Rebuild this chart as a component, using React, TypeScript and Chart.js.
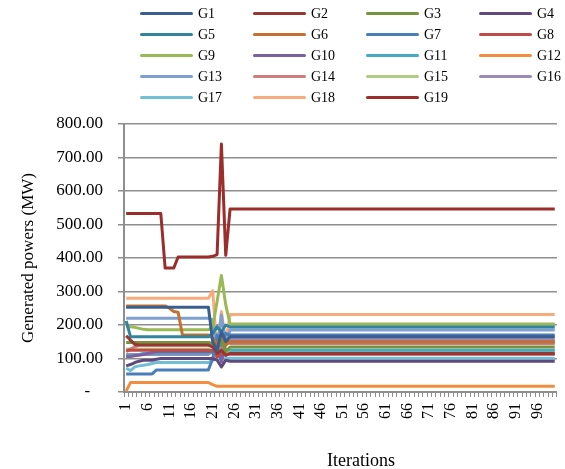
import React, { useEffect, useRef } from "react";
import { Chart, registerables } from "chart.js";

Chart.register(...registerables);

// Categories (iterations 1..100)
const iterations: string[] = Array.from({ length: 100 }, (_, i) => String(i + 1));

const seriesNames = [
  "G1", "G2", "G3", "G4", "G5", "G6", "G7", "G8", "G9", "G10",
  "G11", "G12", "G13", "G14", "G15", "G16", "G17", "G18", "G19",
];

const seriesColors = [
  "#3A5F8F", "#953735", "#77933C", "#5F4A7E", "#31849B", "#C4712F",
  "#4A7EBB", "#BE4B48", "#98B954", "#7D60A0", "#46AAC5", "#F38D40",
  "#7E9FD0", "#D07C7A", "#B0CB84", "#9C8AB8", "#72BED6", "#F8AB7C", "#9B2D2A",
];

const G1 = [253,253,253,253,253,253,253,253,253,253, 253,253,253,253,253,253,253,253,253,253, 150,125,180,150,165,165,165,165,165,165,
  165,165,165,165,165,165,165,165,165,165, 165,165,165,165,165,165,165,165,165,165, 165,165,165,165,165,165,165,165,165,165, 165,165,165,165,165,165,165,165,165,165,
  165,165,165,165,165,165,165,165,165,165, 165,165,165,165,165,165,165,165,165,165, 165,165,165,165,165,165,165,165,165,165];
const G2 = [168,155,142,140,140,140,140,140,140,140, 140,140,140,140,140,140,140,140,140,140, 135,115,125,110,115,115,115,115,115,115,
  115,115,115,115,115,115,115,115,115,115, 115,115,115,115,115,115,115,115,115,115, 115,115,115,115,115,115,115,115,115,115, 115,115,115,115,115,115,115,115,115,115,
  115,115,115,115,115,115,115,115,115,115, 115,115,115,115,115,115,115,115,115,115, 115,115,115,115,115,115,115,115,115,115];
const G3 = [148,148,148,148,148,148,148,148,148,148, 148,148,148,148,148,148,148,148,148,148, 145,125,155,120,134,134,134,134,134,134,
  134,134,134,134,134,134,134,134,134,134, 134,134,134,134,134,134,134,134,134,134, 134,134,134,134,134,134,134,134,134,134, 134,134,134,134,134,134,134,134,134,134,
  134,134,134,134,134,134,134,134,134,134, 134,134,134,134,134,134,134,134,134,134, 134,134,134,134,134,134,134,134,134,134];
const G4 = [78,82,88,92,95,95,95,98,100,100, 100,100,100,100,100,100,100,100,100,100, 100,95,75,95,92,92,92,92,92,92,
  92,92,92,92,92,92,92,92,92,92, 92,92,92,92,92,92,92,92,92,92, 92,92,92,92,92,92,92,92,92,92, 92,92,92,92,92,92,92,92,92,92,
  92,92,92,92,92,92,92,92,92,92, 92,92,92,92,92,92,92,92,92,92, 92,92,92,92,92,92,92,92,92,92];
const G5 = [212,165,165,165,165,165,165,165,165,165, 165,165,165,165,165,165,165,165,165,165, 175,195,180,200,194,194,194,194,194,194,
  194,194,194,194,194,194,194,194,194,194, 194,194,194,194,194,194,194,194,194,194, 194,194,194,194,194,194,194,194,194,194, 194,194,194,194,194,194,194,194,194,194,
  194,194,194,194,194,194,194,194,194,194, 194,194,194,194,194,194,194,194,194,194, 194,194,194,194,194,194,194,194,194,194];
const G6 = [257,257,257,257,257,257,257,257,257,257, 250,240,238,170,170,170,170,170,170,170, 160,140,170,140,150,150,150,150,150,150,
  150,150,150,150,150,150,150,150,150,150, 150,150,150,150,150,150,150,150,150,150, 150,150,150,150,150,150,150,150,150,150, 150,150,150,150,150,150,150,150,150,150,
  150,150,150,150,150,150,150,150,150,150, 150,150,150,150,150,150,150,150,150,150, 150,150,150,150,150,150,150,150,150,150];
const G7 = [54,54,54,54,54,54,54,66,66,66, 66,66,66,66,66,66,66,66,66,66, 100,170,140,175,170,170,170,170,170,170,
  170,170,170,170,170,170,170,170,170,170, 170,170,170,170,170,170,170,170,170,170, 170,170,170,170,170,170,170,170,170,170, 170,170,170,170,170,170,170,170,170,170,
  170,170,170,170,170,170,170,170,170,170, 170,170,170,170,170,170,170,170,170,170, 170,170,170,170,170,170,170,170,170,170];
const G8 = [125,125,125,125,125,125,125,125,125,125, 125,125,125,125,125,125,125,125,125,125, 120,105,118,110,113,113,113,113,113,113,
  113,113,113,113,113,113,113,113,113,113, 113,113,113,113,113,113,113,113,113,113, 113,113,113,113,113,113,113,113,113,113, 113,113,113,113,113,113,113,113,113,113,
  113,113,113,113,113,113,113,113,113,113, 113,113,113,113,113,113,113,113,113,113, 113,113,113,113,113,113,113,113,113,113];
const G9 = [195,195,193,190,187,186,186,186,186,186, 186,186,186,186,186,186,186,186,186,186, 195,270,348,260,203,203,203,203,203,203,
  203,203,203,203,203,203,203,203,203,203, 203,203,203,203,203,203,203,203,203,203, 203,203,203,203,203,203,203,203,203,203, 203,203,203,203,203,203,203,203,203,203,
  203,203,203,203,203,203,203,203,203,203, 203,203,203,203,203,203,203,203,203,203, 203,203,203,203,203,203,203,203,203,203];
const G10 = [105,106,108,110,112,115,118,120,120,120, 120,120,120,120,120,120,120,120,120,120, 125,140,90,145,150,150,150,150,150,150,
  150,150,150,150,150,150,150,150,150,150, 150,150,150,150,150,150,150,150,150,150, 150,150,150,150,150,150,150,150,150,150, 150,150,150,150,150,150,150,150,150,150,
  150,150,150,150,150,150,150,150,150,150, 150,150,150,150,150,150,150,150,150,150, 150,150,150,150,150,150,150,150,150,150];
const G11 = [108,108,110,112,115,116,116,116,116,116, 116,116,116,116,116,116,116,116,116,116, 118,130,110,128,125,125,125,125,125,125,
  125,125,125,125,125,125,125,125,125,125, 125,125,125,125,125,125,125,125,125,125, 125,125,125,125,125,125,125,125,125,125, 125,125,125,125,125,125,125,125,125,125,
  125,125,125,125,125,125,125,125,125,125, 125,125,125,125,125,125,125,125,125,125, 125,125,125,125,125,125,125,125,125,125];
const G12 = [3,28,28,28,28,28,28,28,28,28, 28,28,28,28,28,28,28,28,28,28, 22,17,17,17,17,17,17,17,17,17,
  17,17,17,17,17,17,17,17,17,17, 17,17,17,17,17,17,17,17,17,17, 17,17,17,17,17,17,17,17,17,17, 17,17,17,17,17,17,17,17,17,17,
  17,17,17,17,17,17,17,17,17,17, 17,17,17,17,17,17,17,17,17,17, 17,17,17,17,17,17,17,17,17,17];
const G13 = [220,220,220,220,220,220,220,220,220,220, 220,220,220,220,220,220,220,220,220,220, 215,130,230,140,185,185,185,185,185,185,
  185,185,185,185,185,185,185,185,185,185, 185,185,185,185,185,185,185,185,185,185, 185,185,185,185,185,185,185,185,185,185, 185,185,185,185,185,185,185,185,185,185,
  185,185,185,185,185,185,185,185,185,185, 185,185,185,185,185,185,185,185,185,185, 185,185,185,185,185,185,185,185,185,185];
const G14 = [120,128,135,140,140,140,140,140,140,140, 140,140,140,140,140,140,140,140,140,140, 140,150,130,150,145,145,145,145,145,145,
  145,145,145,145,145,145,145,145,145,145, 145,145,145,145,145,145,145,145,145,145, 145,145,145,145,145,145,145,145,145,145, 145,145,145,145,145,145,145,145,145,145,
  145,145,145,145,145,145,145,145,145,145, 145,145,145,145,145,145,145,145,145,145, 145,145,145,145,145,145,145,145,145,145];
const G15 = [128,128,128,128,128,128,128,128,128,128, 128,128,128,128,128,128,128,128,128,128, 128,115,140,110,124,124,124,124,124,124,
  124,124,124,124,124,124,124,124,124,124, 124,124,124,124,124,124,124,124,124,124, 124,124,124,124,124,124,124,124,124,124, 124,124,124,124,124,124,124,124,124,124,
  124,124,124,124,124,124,124,124,124,124, 124,124,124,124,124,124,124,124,124,124, 124,124,124,124,124,124,124,124,124,124];
const G16 = [112,112,112,112,112,112,112,112,112,112, 112,112,112,112,112,112,112,112,112,112, 125,150,120,160,158,158,158,158,158,158,
  158,158,158,158,158,158,158,158,158,158, 158,158,158,158,158,158,158,158,158,158, 158,158,158,158,158,158,158,158,158,158, 158,158,158,158,158,158,158,158,158,158,
  158,158,158,158,158,158,158,158,158,158, 158,158,158,158,158,158,158,158,158,158, 158,158,158,158,158,158,158,158,158,158];
const G17 = [71,64,75,78,80,82,85,88,88,88, 88,88,88,88,88,88,88,88,88,88, 95,101,98,101,101,101,101,101,101,101,
  101,101,101,101,101,101,101,101,101,101, 101,101,101,101,101,101,101,101,101,101, 101,101,101,101,101,101,101,101,101,101, 101,101,101,101,101,101,101,101,101,101,
  101,101,101,101,101,101,101,101,101,101, 101,101,101,101,101,101,101,101,101,101, 101,101,101,101,101,101,101,101,101,101];
const G18 = [280,280,280,280,280,280,280,280,280,280, 280,280,280,280,280,280,280,280,280,280, 302,120,240,150,231,231,231,231,231,231,
  231,231,231,231,231,231,231,231,231,231, 231,231,231,231,231,231,231,231,231,231, 231,231,231,231,231,231,231,231,231,231, 231,231,231,231,231,231,231,231,231,231,
  231,231,231,231,231,231,231,231,231,231, 231,231,231,231,231,231,231,231,231,231, 231,231,231,231,231,231,231,231,231,231];
const G19 = [533,533,533,533,533,533,533,533,533,370, 370,370,403,403,403,403,403,403,403,403, 405,410,740,408,546,546,546,546,546,546,
  546,546,546,546,546,546,546,546,546,546, 546,546,546,546,546,546,546,546,546,546, 546,546,546,546,546,546,546,546,546,546, 546,546,546,546,546,546,546,546,546,546,
  546,546,546,546,546,546,546,546,546,546, 546,546,546,546,546,546,546,546,546,546, 546,546,546,546,546,546,546,546,546,546];

const seriesValues = [G1, G2, G3, G4, G5, G6, G7, G8, G9, G10, G11, G12, G13, G14, G15, G16, G17, G18, G19];

const yMin = 0;
const yMax = 800;
const yStep = 100;
const xLabelEvery = 5;

const FONT = "'Liberation Serif', 'Times New Roman', Times, serif";
const GRID = "#8e8e8e";

export default function App() {
  const ref = useRef<HTMLCanvasElement>(null);

  useEffect(() => {
    document.body.style.margin = "0";
    document.body.style.overflow = "hidden";
    const chart = new Chart(ref.current as HTMLCanvasElement, {
      type: "line",
      data: {
        labels: iterations,
        datasets: seriesNames.map((name, i) => ({
          label: name,
          data: seriesValues[i],
          borderColor: seriesColors[i],
          backgroundColor: seriesColors[i],
          borderWidth: 3,
          pointRadius: 0,
          pointHoverRadius: 0,
          tension: 0,
          fill: false,
          borderJoinStyle: "round" as const,
        })),
      },
      options: {
        responsive: false,
        animation: false,
        devicePixelRatio: 1,
        layout: { padding: { left: 0, right: 11, top: 124, bottom: 0 } },
        plugins: { legend: { display: false }, tooltip: { enabled: false } },
        scales: {
          x: {
            type: "category",
            offset: true,
            grid: {
              display: true,
              drawOnChartArea: false,
              drawTicks: true,
              tickLength: 5,
              color: GRID,
              lineWidth: 1,
              offset: true,
            },
            border: { display: true, color: GRID, width: 2 },
            ticks: {
              autoSkip: false,
              maxRotation: 90,
              minRotation: 90,
              padding: 6,
              color: "#000",
              font: { family: FONT, size: 16 },
              callback: (_v: any, i: number) => (i % xLabelEvery === 0 ? iterations[i] : ""),
            },
            afterFit: (s: any) => {
              s.height = 77;
            },
          },
          y: {
            min: yMin,
            max: yMax,
            grid: { color: GRID, lineWidth: 1.5, drawTicks: true, tickLength: 6 },
            border: { display: true, color: GRID, width: 2 },
            ticks: {
              stepSize: yStep,
              padding: 15,
              color: "#000",
              font: { family: FONT, size: 17 },
              callback: (v: any) => (Number(v) === 0 ? "-   " : Number(v).toFixed(2)),
            },
            afterFit: (s: any) => {
              s.width = 124;
            },
          },
        },
      },
    });
    return () => chart.destroy();
  }, []);

  return (
    <div
      style={{
        position: "fixed",
        left: 0,
        top: 0,
        width: 565,
        height: 469,
        overflow: "hidden",
        background: "#fff",
        fontFamily: FONT,
        color: "#000",
      }}
    >
      <canvas ref={ref} width={580} height={469} style={{ position: "absolute", left: 0, top: 0, width: 580, height: 469 }} />
      {seriesNames.map((name, i) => {
        const col = i % 4;
        const row = Math.floor(i / 4);
        const left = 140 + col * 113;
        const cy = 13.5 + row * 21;
        return (
          <div key={name} style={{ position: "absolute", left, top: cy - 8, height: 16, display: "flex", alignItems: "center" }}>
            <div style={{ width: 53, height: 3.5, borderRadius: 2, background: seriesColors[i] }} />
            <span style={{ marginLeft: 5, fontSize: 14, lineHeight: "16px", whiteSpace: "nowrap" }}>{name}</span>
          </div>
        );
      })}
      <div
        style={{
          position: "absolute",
          left: 28 - 100,
          top: 258 - 10,
          width: 200,
          height: 20,
          lineHeight: "20px",
          textAlign: "center",
          fontSize: 17,
          transform: "rotate(-90deg)",
          whiteSpace: "nowrap",
        }}
      >
        Generated powers (MW)
      </div>
      <div
        style={{
          position: "absolute",
          left: 361 - 60,
          top: 460 - 11,
          width: 120,
          height: 22,
          lineHeight: "22px",
          textAlign: "center",
          fontSize: 18,
          whiteSpace: "nowrap",
        }}
      >
        Iterations
      </div>
    </div>
  );
}
